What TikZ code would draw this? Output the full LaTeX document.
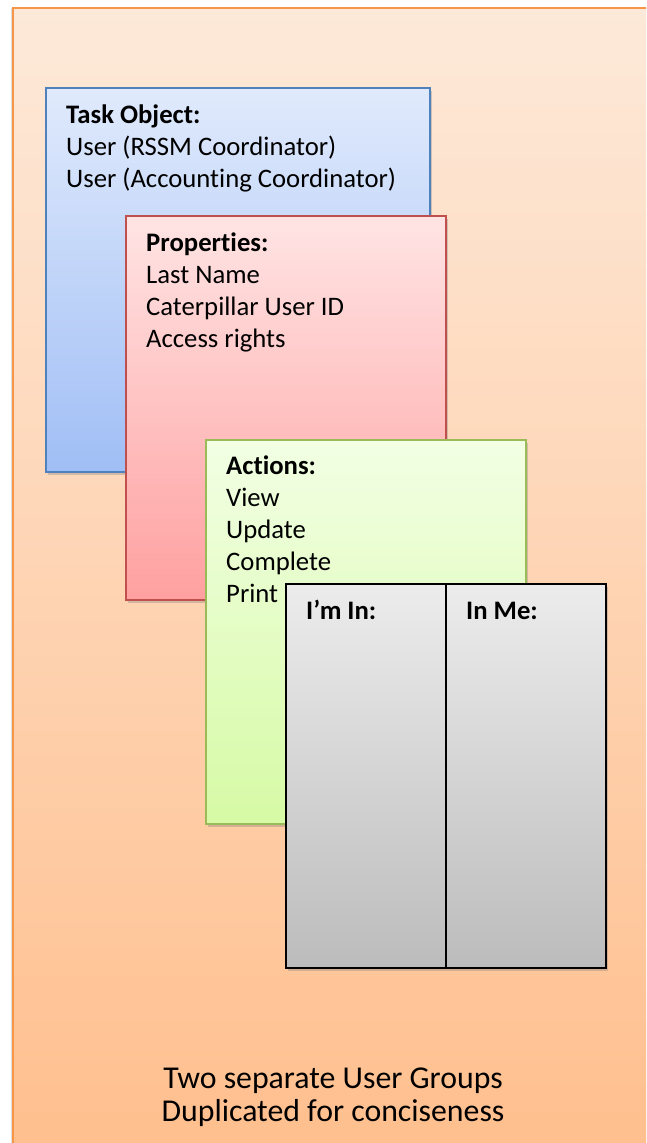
\documentclass[tikz,border=0pt]{standalone}
\usepackage{fontspec}
\setmainfont{Carlito}[Ligatures={NoCommon}]
\usetikzlibrary{shadows}
\definecolor{frameO}{RGB}{247,150,70}
\definecolor{frameT}{RGB}{253,233,217}
\definecolor{frameB}{RGB}{255,190,140}
\definecolor{blueB}{RGB}{79,129,189}
\definecolor{blueT}{RGB}{224,234,252}
\definecolor{blueD}{RGB}{160,190,245}
\definecolor{redB}{RGB}{192,80,77}
\definecolor{redT}{RGB}{255,228,228}
\definecolor{redD}{RGB}{255,160,160}
\definecolor{greenB}{RGB}{155,187,89}
\definecolor{greenT}{RGB}{242,255,228}
\definecolor{greenD}{RGB}{214,250,165}
\definecolor{greyT}{RGB}{236,236,236}
\definecolor{greyD}{RGB}{188,188,188}
\begin{document}
\begin{tikzpicture}[x=1pt,y=-1pt,
  card/.style={line width=1.5pt, drop shadow={opacity=0.35,shadow xshift=2pt,shadow yshift=-3pt}},
  txt/.style={anchor=base west, inner sep=0pt, font=\fontsize{26.7}{32}\selectfont},
  head/.style={txt, font=\fontsize{26.7}{32}\selectfont\bfseries}]

\useasboundingbox (0,0) rectangle (646,1143);
\clip (0,0) rectangle (646,1143);

% background frame
\draw[draw=frameO, line width=1.5pt, top color=frameT, bottom color=frameB,
  drop shadow={opacity=0.25,shadow xshift=-2pt,shadow yshift=0pt}] (13,8) rectangle (680,1180);

% task object
\draw[card, draw=blueB, top color=blueT, bottom color=blueD] (46,88) rectangle (430,472);
\node[head] (taskHead) at (66,123) {Task Object:};
\foreach \t [count=\i] in {User (RSSM Coordinator),User (Accounting Coordinator)}
  \node[txt] (task\i) at (66,123+32*\i) {\t};

% properties
\draw[card, draw=redB, top color=redT, bottom color=redD] (126,216) rectangle (446,600);
\node[head] (propHead) at (146,251) {Properties:};
\foreach \t [count=\i] in {Last Name,Caterpillar User ID,Access rights}
  \node[txt] (prop\i) at (146,251+32*\i) {\t};

% actions
\draw[card, draw=greenB, top color=greenT, bottom color=greenD] (206,440) rectangle (526,824);
\node[head] (actHead) at (226,474) {Actions:};
\foreach \t [count=\i] in {View,Update,Complete,Print}
  \node[txt] (act\i) at (226,474+32*\i) {\t};

% relations
\draw[card, draw=black, line width=2pt, top color=greyT, bottom color=greyD] (286,584) rectangle (446,968);
\draw[card, draw=black, line width=2pt, top color=greyT, bottom color=greyD] (446,584) rectangle (606,968);
\node[head] (imIn) at (306,619) {I’m In:};
\node[head] (inMe) at (466,619) {In Me:};

\node[anchor=base, inner sep=0pt, font=\fontsize{31.8}{34}\selectfont] (note1) at (333,1088) {Two separate User Groups};
\node[anchor=base, inner sep=0pt, font=\fontsize{31.8}{34}\selectfont] (note2) at (333,1121) {Duplicated for conciseness};
\end{tikzpicture}
\end{document}
